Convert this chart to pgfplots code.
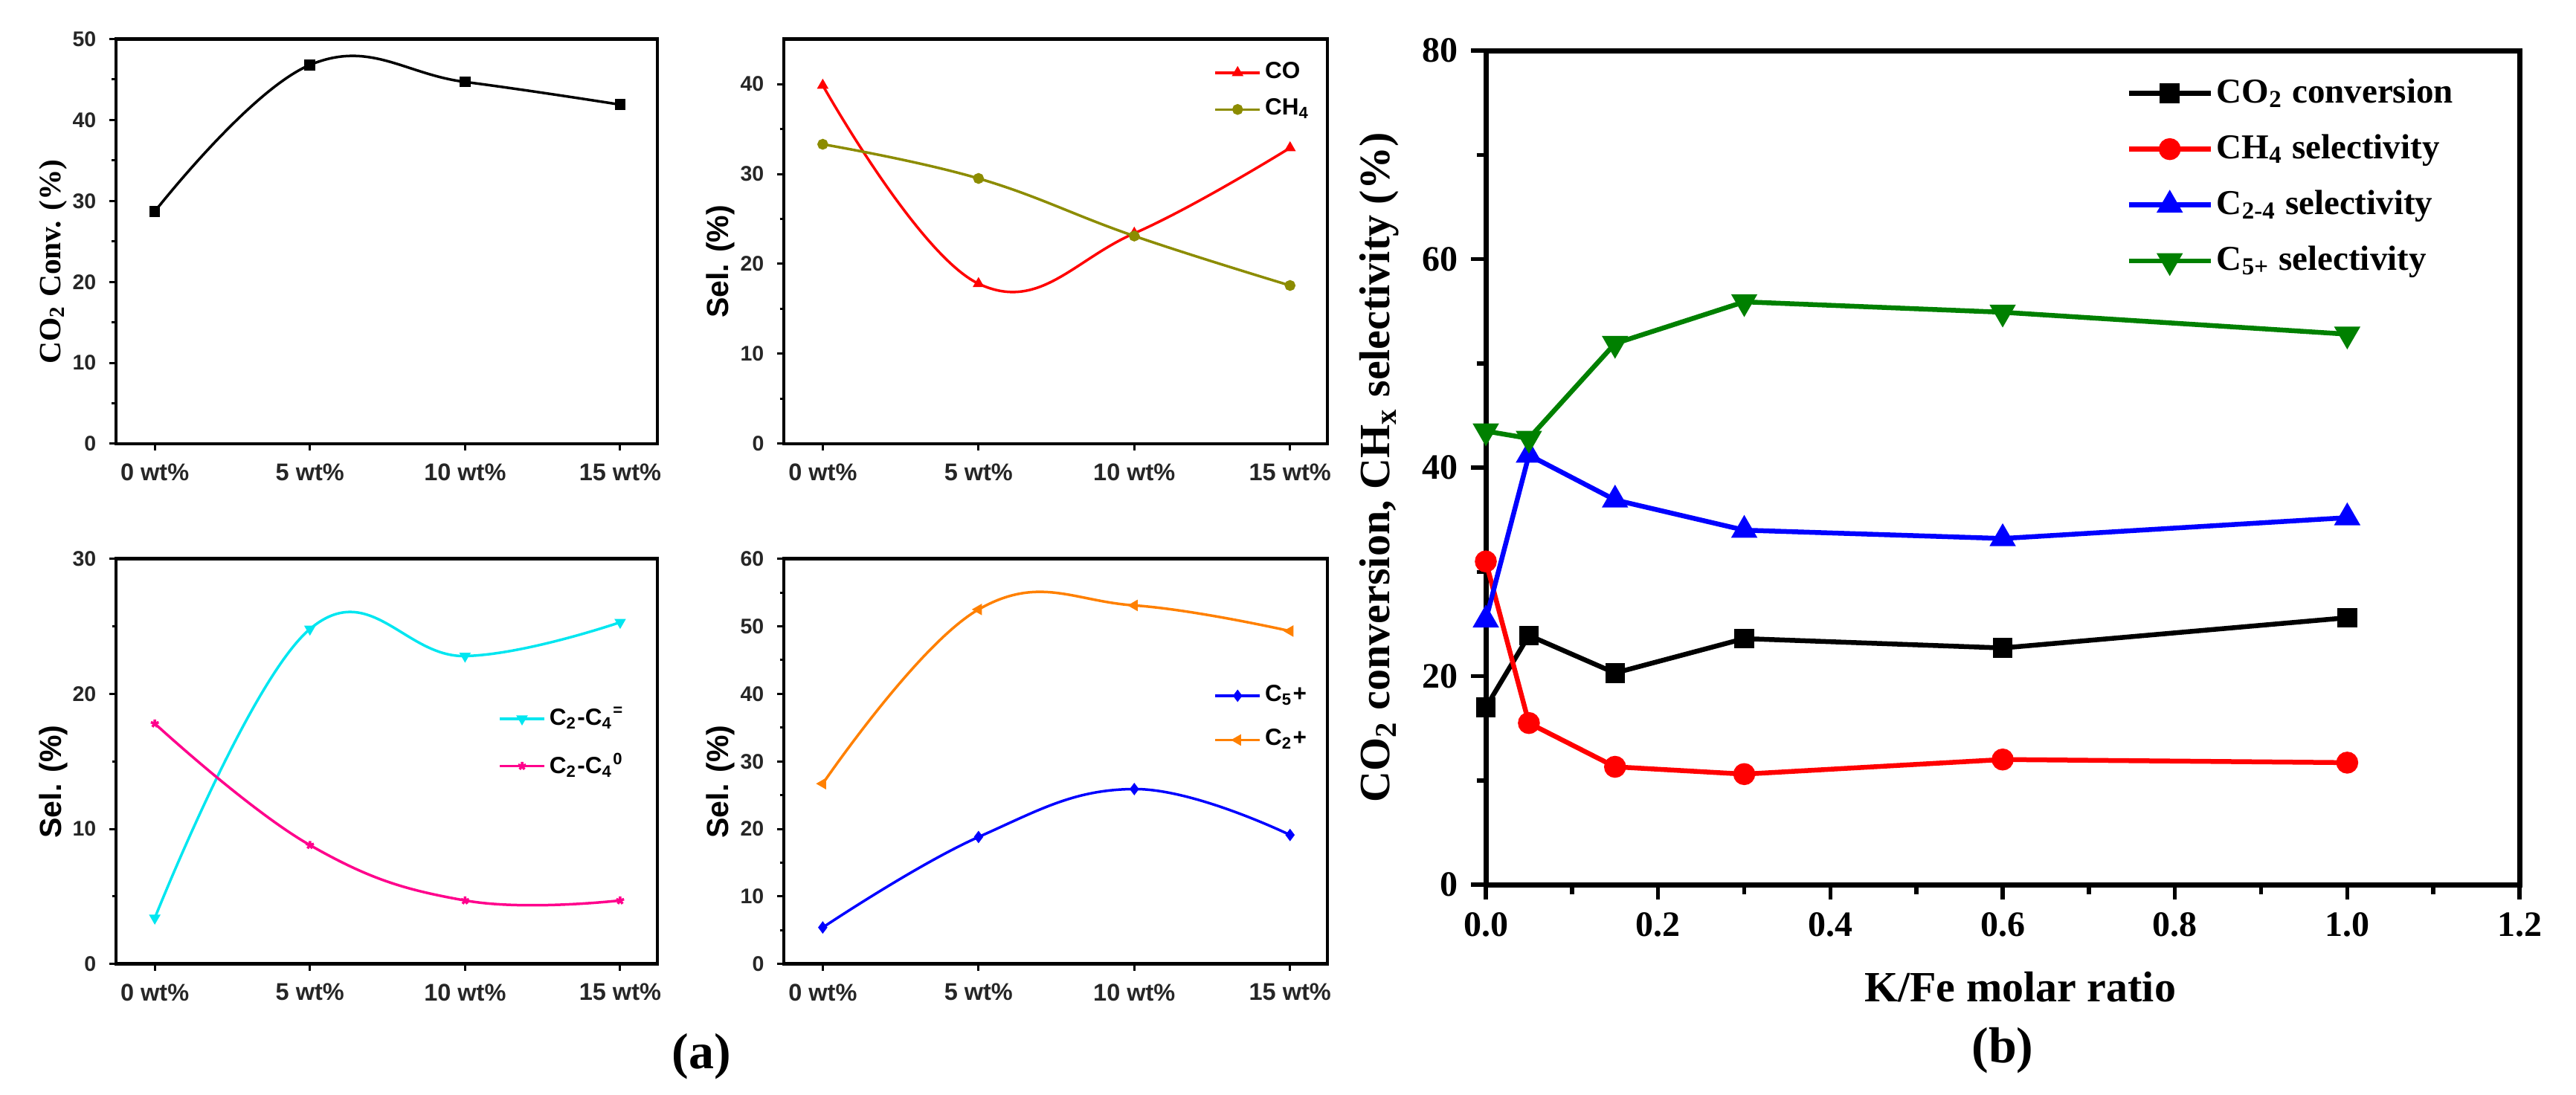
\documentclass[border=0pt]{standalone}
\usepackage{fontspec}
\setmainfont{Liberation Serif}
\newfontfamily\asf{Liberation Sans}
\usepackage{pgfplots}
\pgfplotsset{compat=1.18}
\definecolor{olivec}{RGB}{140,140,0}
\definecolor{pinkc}{RGB}{255,0,140}
\definecolor{orangec}{RGB}{255,128,0}
\definecolor{greenc}{RGB}{0,128,0}
\definecolor{cyanc}{RGB}{0,230,240}
\pgfplotsset{
 astyle/.style={
  scale only axis, anchor=south west,
  xmin=-0.25, xmax=3.24, ymin=0,
  xtick={0,1,2,3}, xticklabels={0 wt\%,5 wt\%,10 wt\%,15 wt\%},
  tick align=outside, xtick pos=bottom, ytick pos=left,
  major tick length=1.8pt, minor tick length=1.1pt,
  axis line style={line width=0.9pt},
  every tick/.style={line width=0.6pt, black},
  minor y tick num=1,
  /pgf/number format/assume math mode=true,
  xticklabel style={font=\asf\bfseries\fontsize{6.5}{7}\selectfont, text=black!85},
  yticklabel style={font=\asf\bfseries\fontsize{5.7}{6}\selectfont, text=black!85},
  ylabel style={at={(axis description cs:-0.116,0.45)}, anchor=center, font=\asf\bfseries\fontsize{8.2}{9}\selectfont},
  legend style={draw=none, fill=none, inner sep=0pt, anchor=north west, row sep=2pt,
    font=\asf\bfseries\fontsize{6.3}{7}\selectfont, nodes={inner sep=1pt}},
  legend cell align=left,
  legend image code/.code={\draw[mark repeat=2,mark phase=2,##1] plot coordinates {(0pt,0pt) (6pt,0pt) (12pt,0pt)};},
 },
 aline/.style={line width=0.7pt, smooth, tension=0.7, mark size=1.1pt},
}
\begin{document}
\begin{tikzpicture}
\path[use as bounding box] (0,0) rectangle (692.8pt,294.4pt);

% Panel 1
\begin{axis}[astyle, at={(31.2pt,175pt)}, width=145.6pt, height=108.9pt,
  ymax=50, ytick={0,10,20,30,40,50},
  ylabel={CO\textsubscript{2} Conv. (\%)},
  ylabel style={font=\rmfamily\bfseries\fontsize{8.3}{9}\selectfont}]
\addplot[aline, black, mark=square*] coordinates {(0,28.7) (1,46.8) (2,44.7) (3,41.9)};
\end{axis}

% Panel 2
\begin{axis}[astyle, at={(210.8pt,175pt)}, width=146.2pt, height=108.9pt,
  ymax=45, ytick={0,10,20,30,40},
  ylabel={Sel. (\%)},
  legend style={at={(axis description cs:0.79,0.955)}}]
\addplot[aline, red, mark=triangle*] coordinates {(0,39.85) (1,17.8) (2,23.4) (3,32.9)};
\addlegendentry{CO}
\addplot[aline, olivec, mark=*] coordinates {(0,33.3) (1,29.5) (2,23.1) (3,17.6)};
\addlegendentry{CH\textsubscript{4}}
\end{axis}

% Panel 3
\begin{axis}[astyle, at={(31.2pt,35.06pt)}, width=145.6pt, height=109pt,
  ymax=30, ytick={0,10,20,30},
  ylabel={Sel. (\%)},
  legend style={at={(axis description cs:0.705,0.645)}, row sep=4pt}]
\addplot[aline, cyanc, mark=triangle*, every mark/.append style={rotate=180}] coordinates {(0,3.4) (1,24.8) (2,22.8) (3,25.3)};
\addlegendentry{C\textsubscript{2}-C\textsubscript{4}\textsuperscript{=}}
\addplot[aline, pinkc, mark=star] coordinates {(0,17.8) (1,8.8) (2,4.7) (3,4.7)};
\addlegendentry{C\textsubscript{2}-C\textsubscript{4}\textsuperscript{0}}
\end{axis}

% Panel 4
\begin{axis}[astyle, at={(210.8pt,35.06pt)}, width=146.2pt, height=109pt,
  ymax=60, ytick={0,10,20,30,40,50,60},
  ylabel={Sel. (\%)},
  legend style={at={(axis description cs:0.79,0.70)}, row sep=4pt}]
\addplot[aline, blue, mark=diamond*] coordinates {(0,5.4) (1,18.8) (2,25.9) (3,19.1)};
\addlegendentry{C\textsubscript{5}+}
\addplot[aline, orangec, mark=triangle*, every mark/.append style={rotate=90}] coordinates {(0,26.7) (1,52.5) (2,53.1) (3,49.3)};
\addlegendentry{C\textsubscript{2}+}
\end{axis}

% Panel b
\begin{axis}[scale only axis, anchor=south west, at={(399.6pt,56.4pt)}, width=278pt, height=224.4pt,
  xmin=0, xmax=1.2, ymin=0, ymax=80,
  xtick={0,0.2,0.4,0.6,0.8,1.0,1.2}, ytick={0,20,40,60,80},
  minor x tick num=1, minor y tick num=1,
  tick align=outside, xtick pos=bottom, ytick pos=left,
  major tick length=4pt, minor tick length=2.5pt,
  axis line style={line width=1.4pt},
  every tick/.style={line width=1.1pt, black},
  /pgf/number format/assume math mode=true,
  xticklabel style={/pgf/number format/.cd, fixed, fixed zerofill, precision=1},
  ticklabel style={font=\bfseries\fontsize{9.6}{11}\selectfont},
  xlabel={K/Fe molar ratio},
  ylabel={CO\textsubscript{2} conversion, CH\textsubscript{x} selectivity (\%)},
  label style={font=\bfseries\fontsize{11.6}{13}\selectfont},
  xlabel style={at={(axis description cs:0.517,-0.123)}, anchor=center},
  ylabel style={at={(axis description cs:-0.103,0.5)}, anchor=center},
  legend style={draw=none, fill=none, inner sep=0pt, anchor=north west, row sep=5pt,
    at={(axis description cs:0.619,0.972)},
    font=\bfseries\fontsize{9.4}{11}\selectfont, nodes={inner sep=1pt}},
  legend cell align=left,
  legend image code/.code={\draw[mark repeat=2,mark phase=2,#1] plot coordinates {(0pt,0pt) (11pt,0pt) (22pt,0pt)};},
  clip=false]
\addplot[black, line width=1.3pt, mark=square*, mark size=2pt] coordinates {(0,17.0) (0.05,23.9) (0.15,20.3) (0.3,23.6) (0.6,22.7) (1.0,25.6)};
\addlegendentry{CO\textsubscript{2} conversion}
\addplot[red, line width=1.3pt, mark=*, mark size=2.3pt] coordinates {(0,31.0) (0.05,15.5) (0.15,11.3) (0.3,10.6) (0.6,12.0) (1.0,11.7)};
\addlegendentry{CH\textsubscript{4} selectivity}
\addplot[blue, line width=1.3pt, mark=triangle*, mark size=2.8pt] coordinates {(0,25.4) (0.05,41.2) (0.15,36.9) (0.3,34.0) (0.6,33.2) (1.0,35.2)};
\addlegendentry{C\textsubscript{2-4} selectivity}
\addplot[greenc, line width=1.3pt, mark=triangle*, mark size=2.8pt, every mark/.append style={rotate=180}] coordinates {(0,43.5) (0.05,42.8) (0.15,51.9) (0.3,55.9) (0.6,54.9) (1.0,52.8)};
\addlegendentry{C\textsubscript{5+} selectivity}
\end{axis}

\node[font=\bfseries\fontsize{13.6}{15}\selectfont] at (188.6pt,10.2pt) {(a)};
\node[font=\bfseries\fontsize{13.6}{15}\selectfont] at (538.6pt,11.8pt) {(b)};
\end{tikzpicture}
\end{document}
